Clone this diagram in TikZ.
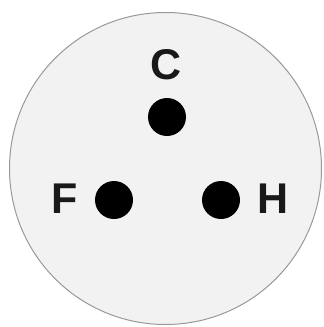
\documentclass[tikz,border=0pt]{standalone}
\usepackage{fontspec}
\setmainfont{Liberation Sans}
\begin{document}
\begin{tikzpicture}[x=1pt,y=-1pt,
  dot/.style={circle,fill=black,inner sep=0pt,minimum size=38pt},
  lbl/.style={font=\fontsize{43}{43}\selectfont\bfseries,inner sep=0pt,text=black!90},
  disc/.style={circle,fill=black!5,draw=black!40,line width=1pt,inner sep=0pt,minimum size=312pt}]
\useasboundingbox (0,0) rectangle (324,327);
\node[disc] (plate) at (165.5,168.5) {};
\node[dot] (c) at (167,117) {};
\node[dot] (f) at (114,200) {};
\node[dot] (h) at (221,200) {};
\node[lbl] (cl) at (166,65) {C};
\node[lbl] (fl) at (65,198.5) {F};
\node[lbl] (hl) at (273,198.5) {H};
\end{tikzpicture}
\end{document}
